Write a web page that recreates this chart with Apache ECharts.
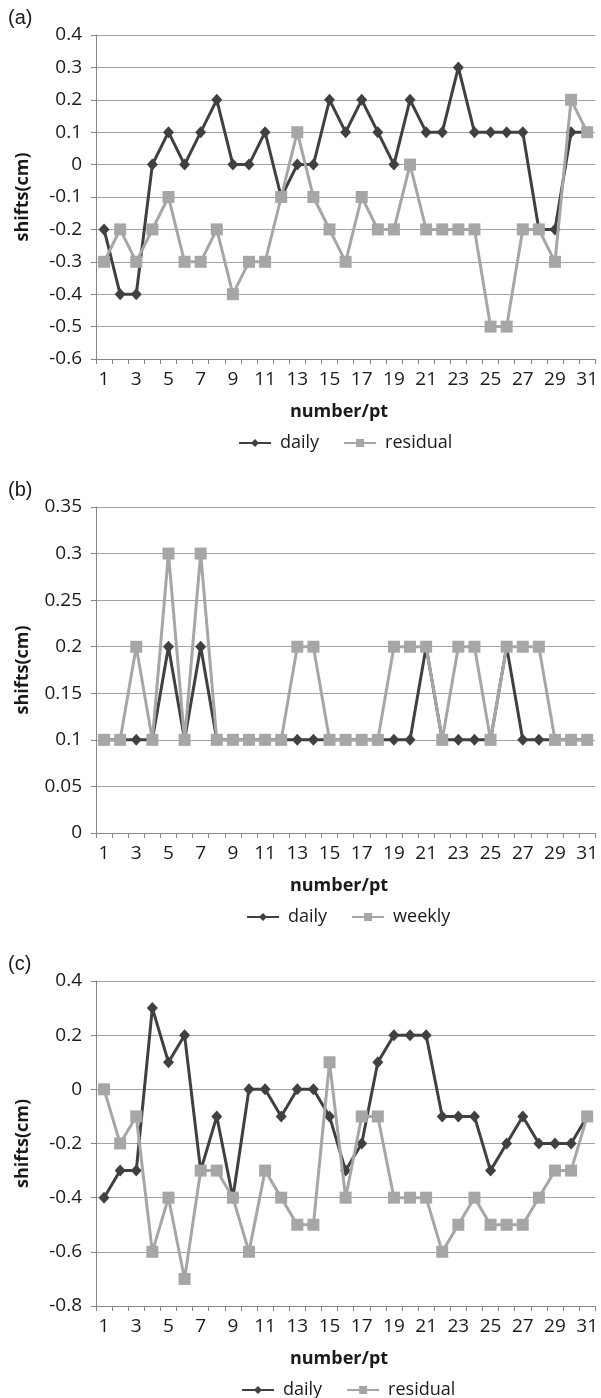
<!DOCTYPE html>
<html>
<head>
<meta charset="utf-8">
<script src="https://cdn.jsdelivr.net/npm/echarts@6/dist/echarts.min.js"></script>
<style>
  html, body { margin: 0; padding: 0; background: #fff; }
  #chart { width: 601px; height: 1398px; }
</style>
</head>
<body>
<div id="chart"></div>
<script>
const patients = ['1', '2', '3', '4', '5', '6', '7', '8', '9', '10', '11', '12', '13', '14', '15', '16',
  '17', '18', '19', '20', '21', '22', '23', '24', '25', '26', '27', '28', '29', '30', '31'];

// (a)
const dailyA = [-0.2, -0.4, -0.4, 0, 0.1, 0, 0.1, 0.2, 0, 0, 0.1, -0.1, 0, 0, 0.2, 0.1,
  0.2, 0.1, 0, 0.2, 0.1, 0.1, 0.3, 0.1, 0.1, 0.1, 0.1, -0.2, -0.2, 0.1, 0.1];
const residualA = [-0.3, -0.2, -0.3, -0.2, -0.1, -0.3, -0.3, -0.2, -0.4, -0.3, -0.3, -0.1, 0.1, -0.1, -0.2, -0.3,
  -0.1, -0.2, -0.2, 0, -0.2, -0.2, -0.2, -0.2, -0.5, -0.5, -0.2, -0.2, -0.3, 0.2, 0.1];

// (b)
const dailyB = [0.1, 0.1, 0.1, 0.1, 0.2, 0.1, 0.2, 0.1, 0.1, 0.1, 0.1, 0.1, 0.1, 0.1, 0.1, 0.1,
  0.1, 0.1, 0.1, 0.1, 0.2, 0.1, 0.1, 0.1, 0.1, 0.2, 0.1, 0.1, 0.1, 0.1, 0.1];
const weeklyB = [0.1, 0.1, 0.2, 0.1, 0.3, 0.1, 0.3, 0.1, 0.1, 0.1, 0.1, 0.1, 0.2, 0.2, 0.1, 0.1,
  0.1, 0.1, 0.2, 0.2, 0.2, 0.1, 0.2, 0.2, 0.1, 0.2, 0.2, 0.2, 0.1, 0.1, 0.1];

// (c)
const dailyC = [-0.4, -0.3, -0.3, 0.3, 0.1, 0.2, -0.3, -0.1, -0.4, 0, 0, -0.1, 0, 0, -0.1, -0.3,
  -0.2, 0.1, 0.2, 0.2, 0.2, -0.1, -0.1, -0.1, -0.3, -0.2, -0.1, -0.2, -0.2, -0.2, -0.1];
const residualC = [0, -0.2, -0.1, -0.6, -0.4, -0.7, -0.3, -0.3, -0.4, -0.6, -0.3, -0.4, -0.5, -0.5, 0.1, -0.4,
  -0.1, -0.1, -0.4, -0.4, -0.4, -0.6, -0.5, -0.4, -0.5, -0.5, -0.5, -0.4, -0.3, -0.3, -0.1];

const DARK = '#404040';
const LIGHT = '#a6a6a6';
const AXIS = '#868686';
const TEXT = '#1a1a1a';
const FONT = 'Open Sans';

const panels = [
  { tag: '(a)', top: 35, height: 324, min: -0.6, max: 0.4, step: 0.1, d1: dailyA, d2: residualA, name2: 'residual', legendLeft: 233 },
  { tag: '(b)', top: 507, height: 326, min: 0, max: 0.35, step: 0.05, d1: dailyB, d2: weeklyB, name2: 'weekly', legendLeft: 241 },
  { tag: '(c)', top: 981, height: 325, min: -0.8, max: 0.4, step: 0.2, d1: dailyC, d2: residualC, name2: 'residual', legendLeft: 236 },
];

const chart = echarts.init(document.getElementById('chart'), null, { renderer: 'canvas' });

const grid = [];
const xAxis = [];
const yAxis = [];
const series = [];
const legend = [];
const graphic = [];

panels.forEach((p, i) => {
  const bottom = p.top + p.height;
  grid.push({ left: 96, right: 3, top: p.top, height: p.height });

  xAxis.push({
    type: 'category',
    gridIndex: i,
    data: patients,
    boundaryGap: true,
    axisLine: { onZero: false, lineStyle: { color: AXIS, width: 1 } },
    axisTick: { show: true, interval: 0, length: 5, alignWithLabel: false, lineStyle: { color: AXIS } },
    axisLabel: { interval: 1, margin: 11, color: TEXT, fontFamily: FONT, fontSize: 19 },
    splitLine: { show: false },
  });

  yAxis.push({
    type: 'value',
    gridIndex: i,
    min: p.min,
    max: p.max,
    interval: p.step,
    name: 'shifts(cm)',
    nameLocation: 'middle',
    nameGap: 64,
    nameTextStyle: { fontFamily: FONT, fontSize: 18, fontWeight: 'bold', color: TEXT },
    axisLine: { show: true, lineStyle: { color: AXIS, width: 1 } },
    axisTick: { show: true, length: 5, lineStyle: { color: AXIS } },
    axisLabel: { margin: 14, color: TEXT, fontFamily: FONT, fontSize: 19 },
    splitLine: { show: true, lineStyle: { color: '#a3a3a3', width: 1 } },
  });

  series.push({
    type: 'line',
    name: 'daily',
    xAxisIndex: i,
    yAxisIndex: i,
    data: p.d1,
    symbol: 'diamond',
    symbolSize: [11, 12],
    showAllSymbol: true,
    color: DARK,
    itemStyle: { color: DARK },
    lineStyle: { color: DARK, width: 3 },
    animation: false,
    z: 2,
  });
  series.push({
    type: 'line',
    name: p.name2,
    xAxisIndex: i,
    yAxisIndex: i,
    data: p.d2,
    symbol: 'rect',
    symbolSize: 12,
    showAllSymbol: true,
    color: LIGHT,
    itemStyle: { color: LIGHT },
    lineStyle: { color: LIGHT, width: 3 },
    animation: false,
    z: 3,
  });

  legend.push({
    left: p.legendLeft,
    top: bottom + 81 - 11,
    data: ['daily', p.name2],
    itemWidth: 32,
    itemHeight: 10,
    itemGap: 24,
    selectedMode: false,
    textStyle: { fontFamily: FONT, fontSize: 18, color: TEXT, padding: [0, 0, 0, 4] },
  });

  graphic.push({
    type: 'text',
    x: 339,
    y: bottom + 53,
    style: {
      text: 'number/pt',
      font: 'bold 18px "Open Sans"',
      fill: TEXT,
      align: 'center',
      verticalAlign: 'middle',
    },
  });
  graphic.push({
    type: 'text',
    x: 8,
    y: p.top - 17,
    style: {
      text: p.tag,
      font: '20px "Liberation Sans"',
      fill: TEXT,
      align: 'left',
      verticalAlign: 'middle',
    },
  });
});

chart.setOption({
  animation: false,
  backgroundColor: '#fff',
  grid,
  xAxis,
  yAxis,
  series,
  legend,
  graphic,
});
</script>
</body>
</html>
